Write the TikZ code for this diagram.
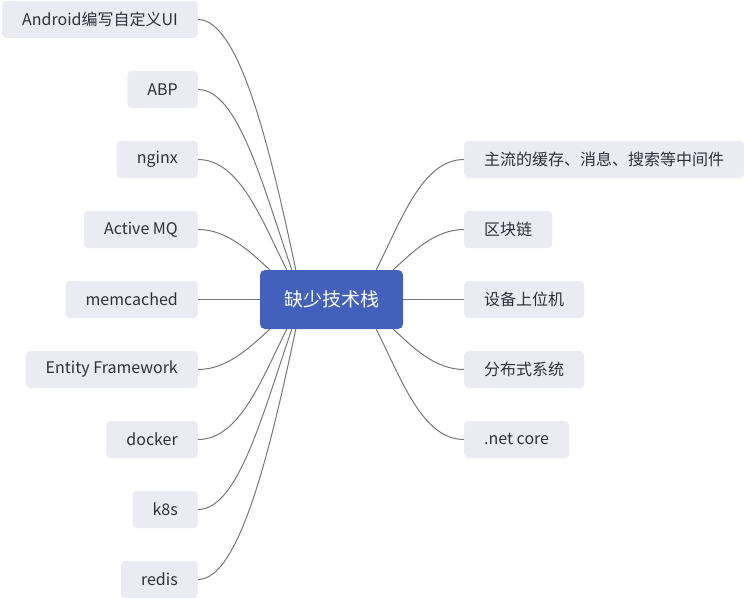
\documentclass[tikz,border=0pt]{standalone}
\usepackage{fontspec}
\setmainfont{Noto Sans CJK SC}
\usetikzlibrary{calc}
\definecolor{leafbg}{HTML}{EAEBF3}
\definecolor{rootbg}{HTML}{4360BC}
\definecolor{linkgray}{HTML}{777777}
\definecolor{inkdark}{HTML}{30303A}
\begin{document}
\begin{tikzpicture}[x=1pt, y=1pt,
    leaf/.style={fill=leafbg, rounded corners=4pt, minimum height=37pt, inner xsep=20pt,
        text=inkdark, font=\fontsize{16}{19}\selectfont},
    rootbox/.style={fill=rootbg, rounded corners=5pt, minimum width=143pt, minimum height=59pt,
        text=white, font=\fontsize{19}{22}\selectfont},
    link/.style={draw=linkgray, line width=1pt}]
    \useasboundingbox (0, 0) rectangle (744, -599);

    % Central topic
    \node[rootbox] (root) at (331.5, -299.5) {缺少技术栈};

    % Left branch
    \node[leaf, anchor=east] (android) at (198, -19.5) {Android编写自定义UI};
    \node[leaf, anchor=east] (abp) at (198, -89.5) {ABP};
    \node[leaf, anchor=east] (nginx) at (198, -159.5) {nginx};
    \node[leaf, anchor=east] (activemq) at (198, -229.5) {Active MQ};
    \node[leaf, anchor=east] (memcached) at (198, -299.5) {memcached};
    \node[leaf, anchor=east] (ef) at (198, -369.5) {Entity Framework};
    \node[leaf, anchor=east] (docker) at (198, -439.5) {docker};
    \node[leaf, anchor=east] (kube) at (198, -509.5) {k8s};
    \node[leaf, anchor=east] (redis) at (198, -579.5) {redis};

    % Right branch
    \node[leaf, anchor=west] (cache) at (464, -159.5) {主流的缓存、消息、搜索等中间件};
    \node[leaf, anchor=west] (chain) at (464, -229.5) {区块链};
    \node[leaf, anchor=west] (device) at (464, -299.5) {设备上位机};
    \node[leaf, anchor=west] (dist) at (464, -369.5) {分布式系统};
    \node[leaf, anchor=west] (netcore) at (464, -439.5) {.net core};

    % Connectors, left top
    \draw[link] (android.east) to[out=0, in=102, out distance=42, in distance=120] ([xshift=36]root.north west);
    \draw[link] (abp.east) to[out=0, in=109, out distance=40, in distance=90] ([xshift=32]root.north west);
    \draw[link] (nginx.east) to[out=0, in=117, out distance=42, in distance=55] ([xshift=27]root.north west);
    \draw[link] (activemq.east) to[out=0, in=138, out distance=30, in distance=25] ([xshift=10]root.north west);
    \draw[link] (memcached.east) -- (root.west);

    % Connectors, left bottom
    \draw[link] (ef.east) to[out=0, in=-138, out distance=30, in distance=25] ([xshift=10]root.south west);
    \draw[link] (docker.east) to[out=0, in=-117, out distance=42, in distance=55] ([xshift=27]root.south west);
    \draw[link] (kube.east) to[out=0, in=-109, out distance=40, in distance=90] ([xshift=32]root.south west);
    \draw[link] (redis.east) to[out=0, in=-102, out distance=42, in distance=120] ([xshift=36]root.south west);

    % Connectors, right
    \draw[link] (cache.west) to[out=180, in=63, out distance=42, in distance=55] ([xshift=-27]root.north east);
    \draw[link] (chain.west) to[out=180, in=42, out distance=30, in distance=25] ([xshift=-10]root.north east);
    \draw[link] (root.east) -- (device.west);
    \draw[link] (dist.west) to[out=180, in=-42, out distance=30, in distance=25] ([xshift=-10]root.south east);
    \draw[link] (netcore.west) to[out=180, in=-63, out distance=42, in distance=55] ([xshift=-27]root.south east);
\end{tikzpicture}
\end{document}
